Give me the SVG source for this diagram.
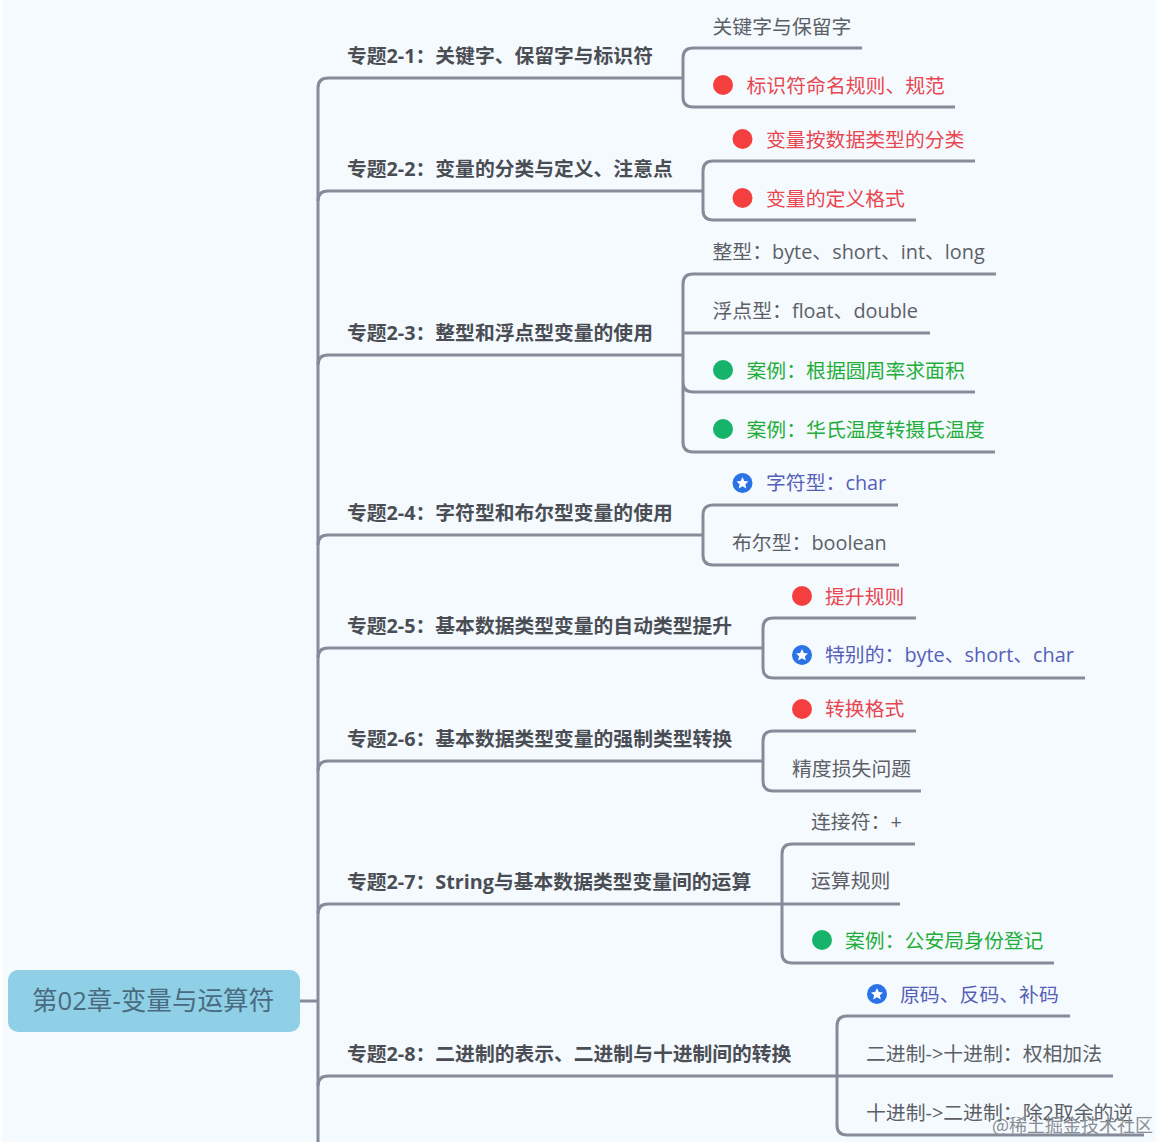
<svg xmlns="http://www.w3.org/2000/svg" xmlns:xlink="http://www.w3.org/1999/xlink" width="1158" height="1142" viewBox="0 0 1158 1142">
<style>
text{font-family:"Open Sans","Noto Sans CJK SC",sans-serif;font-size:19.85px;fill:#5c6066}
.t{font-weight:700;fill:#4a4e54;font-size:19.8px}
.r{fill:#e8474f}
.g{fill:#1fae3a}
.b{fill:#5560b8}
.w{font-size:18px;fill:#8a8e94;font-family:"Noto Sans CJK SC",sans-serif}
.c{fill:none;stroke:#858b99;stroke-width:3}
.dr{fill:#f53f3f}
.dg{fill:#16b36a}
.db{fill:#2a72e5}
.s{fill:#fff}
</style>
<defs>
<g id="star"><circle r="10" class="db"/><polygon class="s" points="0,-6 1.8,-2 6,-1.6 2.9,1.2 3.8,5.5 0,3.3 -3.8,5.5 -2.9,1.2 -6,-1.6 -1.8,-2"/></g>
</defs>
<rect width="1158" height="1142" fill="#f5faff"/>
<rect width="3" height="1142" fill="#fbfdff"/>
<rect x="1155" width="3" height="1142" fill="#fbfdff"/>
<g id="connectors">
<path class="c" d="M300 1001H318"/>
<path class="c" d="M318 1142V88Q318 78 328 78H683"/>
<path class="c" d="M318 201Q318 191 328 191H703"/>
<path class="c" d="M318 365Q318 355 328 355H683"/>
<path class="c" d="M318 545Q318 535 328 535H703"/>
<path class="c" d="M318 658Q318 648 328 648H763"/>
<path class="c" d="M318 771Q318 761 328 761H763"/>
<path class="c" d="M318 914Q318 904 328 904H782"/>
<path class="c" d="M318 1086Q318 1076 328 1076H837"/>
<path class="c" d="M862 48H693Q683 48 683 58V97Q683 107 693 107H955"/>
<path class="c" d="M975 161H713Q703 161 703 171V210Q703 220 713 220H916"/>
<path class="c" d="M996 274H693Q683 274 683 284V442Q683 452 693 452H995M683 333H930M683 382Q683 392 693 392H975"/>
<path class="c" d="M898 505H713Q703 505 703 515V555Q703 565 713 565H899"/>
<path class="c" d="M916 618H773Q763 618 763 628V668Q763 678 773 678H1085"/>
<path class="c" d="M916 731H773Q763 731 763 741V781Q763 791 773 791H921"/>
<path class="c" d="M915 844H792Q782 844 782 854V953Q782 963 792 963H1054M782 904H900"/>
<path class="c" d="M1070 1016H847Q837 1016 837 1026V1125Q837 1135 847 1135H1144M837 1076H1113"/>
</g>
<g id="root"><rect x="8" y="970" width="292" height="62" rx="10" fill="#8fd0e6"/><text x="32" y="1010" style="font-size:25.6px;fill:#4a6a80">第02章-变量与运算符</text></g>
<g id="t1"><text class="t" x="347" y="63">专题2-1：关键字、保留字与标识符</text><text x="712.500" y="33.500">关键字与保留字</text><circle class="dr" cx="723" cy="85" r="10"/><text class="r" x="746.500" y="92.500">标识符命名规则、规范</text></g>
<g id="t2"><text class="t" x="347" y="176">专题2-2：变量的分类与定义、注意点</text><circle class="dr" cx="742.500" cy="139" r="10"/><text class="r" x="766" y="146.500">变量按数据类型的分类</text><circle class="dr" cx="742.500" cy="198" r="10"/><text class="r" x="766" y="205.500">变量的定义格式</text></g>
<g id="t3"><text class="t" x="347" y="340">专题2-3：整型和浮点型变量的使用</text><text x="712.500" y="259">整型：byte、short、int、long</text><text x="712.500" y="318">浮点型：float、double</text><circle class="dg" cx="723" cy="370" r="10"/><text class="g" x="746.500" y="377.500">案例：根据圆周率求面积</text><circle class="dg" cx="723" cy="429" r="10"/><text class="g" x="746.500" y="436.500">案例：华氏温度转摄氏温度</text></g>
<g id="t4"><text class="t" x="347" y="520">专题2-4：字符型和布尔型变量的使用</text><use href="#star" x="742.500" y="483"/><text class="b" x="766" y="490">字符型：char</text><text x="732" y="549.500">布尔型：boolean</text></g>
<g id="t5"><text class="t" x="347" y="633">专题2-5：基本数据类型变量的自动类型提升</text><circle class="dr" cx="802" cy="596" r="10"/><text class="r" x="825" y="603.500">提升规则</text><use href="#star" x="802" y="655"/><text class="b" x="825" y="662">特别的：byte、short、char</text></g>
<g id="t6"><text class="t" x="347" y="746">专题2-6：基本数据类型变量的强制类型转换</text><circle class="dr" cx="802" cy="709" r="10"/><text class="r" x="825" y="716">转换格式</text><text x="792" y="775.500">精度损失问题</text></g>
<g id="t7"><text class="t" x="347" y="888.500">专题2-7：String与基本数据类型变量间的运算</text><text x="811" y="829">连接符：+</text><text x="811" y="888">运算规则</text><circle class="dg" cx="822" cy="940" r="10"/><text class="g" x="845" y="947.500">案例：公安局身份登记</text></g>
<g id="t8"><text class="t" x="347" y="1061">专题2-8：二进制的表示、二进制与十进制间的转换</text><use href="#star" x="877" y="994"/><text class="b" x="900" y="1001.500">原码、反码、补码</text><text x="866" y="1060.500">二进制-&gt;十进制：权相加法</text><text x="866" y="1119.500">十进制-&gt;二进制：除2取余的逆</text></g>
<text class="w" x="992" y="1132">@稀土掘金技术社区</text>
</svg>
